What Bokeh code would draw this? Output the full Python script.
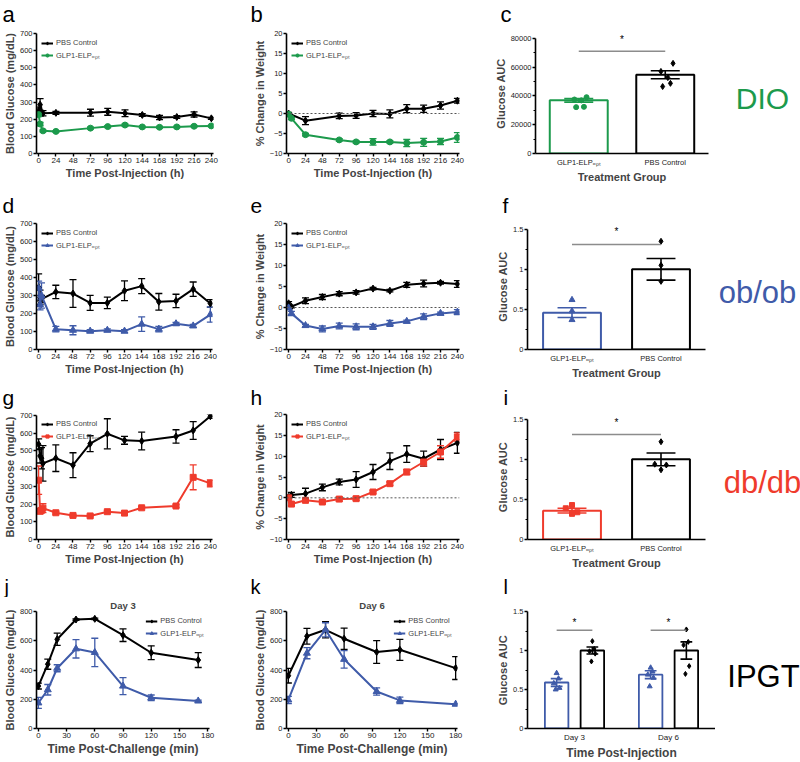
from bokeh.plotting import figure
from bokeh.layouts import column, row
from bokeh.models import (Range1d, FixedTicker, Label, Whisker, TeeHead,
                          ColumnDataSource, Span, BasicTickFormatter)
from bokeh.core.validation import silence
from bokeh.core.validation.warnings import MISSING_RENDERERS
from bokeh.embed import file_html
from bokeh.resources import INLINE

silence(MISSING_RENDERERS, True)

FONT = "Liberation Sans"
BLACK = "#000000"
GREEN = "#1c9a4c"
BLUE = "#3f5ba9"
RED = "#ef3b2c"
GRAY = "#8c8c8c"

GLP = "GLP1-ELP\u2092\u209a\u209c"
PBS = "PBS Control"

# ---------------- data ----------------
hour_ticks = [0, 24, 48, 72, 96, 120, 144, 168, 192, 216, 240]
glucose_ticks = [0, 100, 200, 300, 400, 500, 600, 700]
weight_ticks = [-10, -5, 0, 5, 10, 15, 20]
challenge_ticks = [0, 30, 60, 90, 120, 150, 180]
ipgt_glucose_ticks = [0, 200, 400, 600, 800]
auc_ticks = [0.0, 0.5, 1.0, 1.5]
auc_minor = [0.25, 0.75, 1.25]
dio_auc_ticks = [0, 20000, 40000, 60000, 80000]
dio_auc_minor = [10000, 30000, 50000, 70000]
bar_groups = [GLP, PBS]
ipgt_days = ["Day 3", "Day 6"]
panel_letters = ["a", "b", "c", "d", "e", "f", "g", "h", "i", "j", "k", "l"]
model_names = ["DIO", "ob/ob", "db/db", "IPGT"]

# (a) DIO blood glucose
a_pbs_t = [0, 2, 6, 24, 72, 96, 120, 144, 168, 192, 216, 240]
a_pbs_y = [250, 285, 235, 237, 238, 243, 235, 225, 210, 213, 228, 205]
a_pbs_e = [20, 35, 15, 8, 20, 20, 20, 8, 12, 8, 15, 6]
a_glp_t = [0, 2, 6, 24, 72, 96, 120, 144, 168, 192, 216, 240]
a_glp_y = [227, 172, 132, 129, 148, 157, 166, 155, 153, 155, 159, 161]
a_glp_e = [12, 10, 6, 5, 6, 6, 7, 5, 5, 5, 5, 5]

# (b) DIO weight change
b_pbs_t = [0, 24, 72, 96, 120, 144, 168, 192, 216, 240]
b_pbs_y = [0.0, -1.8, -0.6, -0.5, 0.0, -0.1, 1.2, 1.2, 2.0, 3.2]
b_pbs_e = [0.3, 1.0, 0.7, 0.7, 0.8, 1.0, 1.0, 0.9, 0.9, 0.6]
b_glp_t = [0, 4, 24, 72, 96, 120, 144, 168, 192, 216, 240]
b_glp_y = [-0.2, -1.2, -5.3, -6.6, -7.1, -7.1, -7.1, -7.4, -7.2, -7.0, -6.0]
b_glp_e = [0.2, 0.3, 0.3, 0.3, 0.3, 0.8, 0.3, 0.9, 1.0, 0.8, 1.2]

# (c) DIO AUC
c_mean = [36900, 54700]
c_sem = [1200, 2800]
c_glp_pts = [39100, 37500, 36900, 32400, 32200]
c_pbs_pts = [62600, 57000, 52700, 48700, 46500]
c_sig_y = 71000
c_star_y = 79500

# (d) ob/ob blood glucose
d_t = [0, 2, 4, 24, 48, 72, 96, 120, 144, 168, 192, 216, 240]
d_pbs_y = [345, 290, 280, 320, 311, 259, 259, 326, 352, 265, 270, 335, 256]
d_pbs_e = [75, 40, 20, 37, 77, 42, 32, 55, 42, 46, 37, 40, 21]
d_glp_y = [340, 250, 300, 113, 107, 102, 107, 102, 141, 113, 143, 131, 194]
d_glp_e = [40, 30, 70, 15, 25, 8, 8, 8, 40, 15, 8, 8, 42]

# (e) ob/ob weight change
e_t = [0, 4, 24, 48, 72, 96, 120, 144, 168, 192, 216, 240]
e_pbs_y = [1.0, 0.2, 1.6, 2.5, 3.3, 3.6, 4.5, 4.0, 5.4, 5.7, 5.9, 5.6]
e_pbs_e = [0.4, 0.3, 0.7, 0.6, 0.5, 0.4, 0.3, 0.3, 0.6, 0.8, 0.3, 0.8]
e_glp_y = [-0.1, -1.4, -4.3, -5.1, -4.4, -4.6, -4.6, -3.8, -3.3, -2.2, -1.4, -1.1]
e_glp_e = [0.3, 0.5, 0.3, 0.7, 0.7, 0.7, 0.6, 0.7, 0.3, 0.7, 0.3, 0.6]

# (f) ob/ob AUC
f_mean = [0.46, 1.0]
f_sem = [0.06, 0.135]
f_glp_pts = [0.62, 0.48, 0.37]
f_pbs_pts = [1.35, 1.05, 0.85]
f_sig_y = 1.31
f_star_y = 1.47

# (g) db/db blood glucose
g_t = [0, 2, 4, 6, 24, 48, 72, 96, 120, 144, 192, 216, 240]
g_pbs_y = [538, 472, 459, 430, 459, 420, 541, 597, 560, 556, 582, 616, 696]
g_pbs_e = [30, 40, 60, 100, 75, 70, 45, 85, 22, 50, 38, 50, 12]
g_glp_y = [335, 160, 165, 177, 151, 136, 133, 157, 149, 179, 189, 351, 317]
g_glp_e = [80, 15, 12, 25, 8, 6, 5, 6, 6, 6, 8, 70, 20]

# (h) db/db weight change
h_t = [0, 4, 24, 48, 72, 96, 120, 144, 168, 192, 216, 240]
h_pbs_y = [0.2, 0.7, 1.0, 2.5, 3.8, 4.4, 6.2, 8.8, 10.5, 9.4, 11.6, 13.2]
h_pbs_e = [0.3, 0.6, 1.3, 0.8, 0.7, 1.9, 1.8, 2.0, 2.0, 1.8, 2.4, 2.5]
h_glp_y = [0.0, -1.5, -0.6, -1.0, -0.3, -0.2, 1.4, 3.4, 6.2, 8.6, 11.0, 14.6]
h_glp_e = [0.3, 0.4, 0.4, 0.3, 0.5, 0.4, 0.3, 0.4, 0.6, 1.0, 1.5, 1.0]

# (i) db/db AUC
i_mean = [0.36, 1.0]
i_sem = [0.03, 0.08]
i_glp_pts = [0.43, 0.39, 0.34, 0.32]
i_pbs_pts = [1.22, 0.94, 0.93, 0.87]
i_sig_y = 1.31
i_star_y = 1.46

# (j) IPGT day 3
j_t = [0, 10, 20, 40, 60, 90, 120, 170]
j_pbs_y = [290, 440, 610, 745, 750, 638, 518, 468]
j_pbs_e = [20, 35, 42, 5, 5, 43, 47, 51]
j_glp_y = [175, 265, 412, 545, 520, 290, 210, 188]
j_glp_e = [38, 36, 24, 63, 97, 58, 19, 6]

# (k) IPGT day 6
k_t = [0, 20, 40, 60, 95, 120, 180]
k_pbs_y = [361, 631, 675, 614, 523, 538, 413]
k_pbs_e = [50, 54, 56, 73, 78, 72, 78]
k_glp_y = [195, 515, 675, 473, 253, 192, 166]
k_glp_e = [25, 38, 48, 60, 25, 22, 4]

# (l) IPGT AUC
l_glp_mean = [0.59, 0.69]
l_glp_sem = [0.05, 0.05]
l_pbs_mean = [1.0, 1.0]
l_pbs_sem = [0.045, 0.11]
l_glp_pts = [[0.71, 0.64, 0.58, 0.52, 0.50], [0.78, 0.73, 0.69, 0.65, 0.54]]
l_pbs_pts = [[1.12, 1.02, 0.99, 0.96, 0.86], [1.27, 1.11, 1.07, 0.80, 0.70]]
l_sig_y = 1.26
l_star_y = 1.36

# ---------------- layout geometry (page pixels) ----------------
COL_X = [0, 250, 490, 715]
COL_W = [250, 240, 225, 85]
STRIP_Y = [0, 193, 385, 575]
STRIP_H = [28, 24, 24, 22]
ROW_Y = [28, 217, 409, 597]
ROW_H = [165, 168, 166, 165]

JIT5 = [0.09, -0.05, 0.03, 0.06, -0.03]
JIT4 = [0.0, -0.07, 0.06, 0.0]
JIT3 = [0.0, 0.0, 0.0]
JIT5N = [0.0, 0.02, -0.03, 0.03, -0.01]


def new_fig(w, h, L, R, T, B, x_range, y_range, title=None, **kw):
    if title is None:
        kw["title_location"] = None
    else:
        kw["title"] = title
    p = figure(width=w, height=h, x_range=x_range, y_range=y_range,
               min_border_left=L, min_border_right=R, min_border_top=T,
               min_border_bottom=B, output_backend="svg", toolbar_location=None,
               tools="", **kw)
    p.outline_line_color = None
    p.background_fill_color = "white"
    p.border_fill_color = "white"
    return p


def panel(r, c, L, R, T, B, x_range, y_range, title=None):
    p = new_fig(COL_W[c], ROW_H[r], L, R, T, B, x_range, y_range, title=title)
    p.grid.visible = False
    return p


def text_fig(x0, y0, w, h, items):
    p = new_fig(w, h, 0, 0, 0, 0, Range1d(0, w), Range1d(0, h),
                x_axis_type=None, y_axis_type=None)
    for px, py, txt, kw in items:
        p.add_layout(Label(x=px - x0, y=(y0 + h) - py, text=txt, text_font=FONT, **kw))
    return p


def style_axes(p, xlabel, ylabel, xticks, yticks, ytick_minor=None, xtick_len=3):
    p.xaxis.ticker = FixedTicker(ticks=xticks)
    if ytick_minor:
        p.yaxis.ticker = FixedTicker(ticks=yticks, minor_ticks=ytick_minor)
    else:
        p.yaxis.ticker = FixedTicker(ticks=yticks)
    p.xaxis.axis_label = xlabel
    p.yaxis.axis_label = ylabel
    for ax in (p.xaxis[0], p.yaxis[0]):
        ax.axis_line_width = 1.6
        ax.axis_line_color = BLACK
        ax.major_tick_line_width = 1.4
        ax.major_tick_line_color = BLACK
        ax.major_tick_out = 3
        ax.major_tick_in = 0
        ax.minor_tick_out = 2
        ax.minor_tick_in = 0
        ax.minor_tick_line_width = 1.2
        ax.minor_tick_line_color = BLACK
        ax.major_label_text_font = FONT
        ax.major_label_text_font_size = "8px"
        ax.major_label_text_color = "#222222"
        ax.major_label_standoff = 1
        ax.axis_label_text_font = FONT
        ax.axis_label_text_font_style = "bold"
        ax.axis_label_text_font_size = "11px"
        ax.axis_label_standoff = 1
    p.yaxis.major_label_text_font_size = "7.5px"
    p.xaxis.major_tick_out = xtick_len
    p.yaxis.formatter = BasicTickFormatter(use_scientific=False)


def add_series(p, t, y, e, color, marker, size, label, cap=7):
    lo = [a - b for a, b in zip(y, e)]
    hi = [a + b for a, b in zip(y, e)]
    src = ColumnDataSource(dict(x=t, y=y, lo=lo, hi=hi))
    p.add_layout(Whisker(source=src, base="x", lower="lo", upper="hi",
                         line_color=color, line_width=1.3,
                         lower_head=TeeHead(size=cap, line_color=color, line_width=1.3),
                         upper_head=TeeHead(size=cap, line_color=color, line_width=1.3)))
    p.line("x", "y", source=src, line_color=color, line_width=2, legend_label=label)
    p.scatter("x", "y", source=src, marker=marker, size=size, fill_color=color,
              line_color=color, legend_label=label)


def style_legend(p, loc):
    lg = p.legend[0]
    lg.location = loc
    lg.background_fill_alpha = 0
    lg.border_line_alpha = 0
    lg.label_text_font = FONT
    lg.label_text_font_size = "7.5px"
    lg.glyph_width = 12
    lg.glyph_height = 8
    lg.label_height = 8
    lg.label_standoff = 3
    lg.spacing = 3
    lg.padding = 1
    lg.margin = 4


def zero_line(p):
    p.add_layout(Span(location=0, dimension="width", line_color="#555555",
                      line_dash="2 2", line_width=1))


def add_bar(p, center, mean, sem, color, width, line_w=2):
    p.vbar(x=[center], top=[mean], width=width, fill_color="white", line_color=color,
           line_width=line_w)
    h = width * 0.25
    p.segment(x0=[center, center - h, center - h], y0=[mean - sem, mean - sem, mean + sem],
              x1=[center, center + h, center + h], y1=[mean + sem, mean - sem, mean + sem],
              line_color=color, line_width=1.6)


def add_dots(p, center, pts, jit, color, marker, size):
    p.scatter(x=[center + j for j in jit[:len(pts)]], y=pts, marker=marker, size=size,
              fill_color=color, line_color=color)


def add_sig(p, x0, x1, sig_y, star_y):
    p.line(x=[x0, x1], y=[sig_y, sig_y], line_color=GRAY, line_width=1.6)
    p.add_layout(Label(x=(x0 + x1) / 2, y=star_y, text="*", text_font=FONT,
                       text_font_size="10px", text_align="center",
                       text_baseline="middle", text_color=BLACK))


def ext_range(top, frame_h, pad):
    # extra headroom above the axis end so that stars are not clipped
    return Range1d(0, top * (frame_h + pad) / frame_h)


def hour_range():
    return Range1d(-3, 243)


centers = [i + 0.5 for i in range(len(bar_groups))]
day_centers = [i + 0.5 for i in range(len(ipgt_days))]
SIDE = dict(text_baseline="alphabetic", text_align="center")

# ---------------- strips with panel letters (centred vertically in each strip) ----------------
strip_x = [[2, 250, 500], [2, 250, 502], [2, 250, 503], [4, 250, 503]]
strip_fs = ["22px", "21px", "21px", "20px"]
strips = []
for r in range(4):
    mid = STRIP_Y[r] + STRIP_H[r] / 2
    let = dict(text_font_size=strip_fs[r], text_baseline="middle", text_align="left",
               text_color=BLACK)
    items = [(x, mid, panel_letters[3 * r + k], let) for k, x in enumerate(strip_x[r])]
    strips.append(text_fig(0, STRIP_Y[r], 800, STRIP_H[r], items))

# ---------------- side labels ----------------
side_spec = [(762, 117, GREEN, "30px"), (757, 309, BLUE, "31px"),
             (762, 499, RED, "31px"), (763, 688, BLACK, "31px")]
sides = []
for r in range(4):
    x, y, col, fs = side_spec[r]
    sides.append(text_fig(COL_X[3], ROW_Y[r], COL_W[3], ROW_H[r],
                          [(x, y, model_names[r], dict(text_color=col, text_font_size=fs, **SIDE))]))

# ---------------- row 1: DIO ----------------
A = panel(0, 0, 33, 37, 5, 36, hour_range(), Range1d(0, 700))
style_axes(A, "Time Post-Injection (h)", "Blood Glucose (mg/dL)", hour_ticks, glucose_ticks)
add_series(A, a_pbs_t, a_pbs_y, a_pbs_e, BLACK, "diamond", 7, PBS)
add_series(A, a_glp_t, a_glp_y, a_glp_e, GREEN, "circle", 6, GLP)
style_legend(A, "top_left")

B = panel(0, 1, 30, 31, 5, 36, hour_range(), Range1d(-10, 20))
style_axes(B, "Time Post-Injection (h)", "% Change in Weight", hour_ticks, weight_ticks)
zero_line(B)
add_series(B, b_pbs_t, b_pbs_y, b_pbs_e, BLACK, "diamond", 7, PBS)
add_series(B, b_glp_t, b_glp_y, b_glp_e, GREEN, "circle", 6, GLP)
style_legend(B, "top_left")

C = panel(0, 2, 45, 7, 0, 40, Range1d(0, 2), ext_range(80000, 120, 5))
style_axes(C, "Treatment Group", "Glucose AUC", centers, dio_auc_ticks, dio_auc_minor,
           xtick_len=0)
C.yaxis.bounds = (0, 80000)
C.xaxis.major_label_overrides = {centers[0]: bar_groups[0], centers[1]: bar_groups[1]}
C.xaxis.major_label_text_font_size = "7.5px"
C.xaxis.major_label_standoff = 4
add_bar(C, centers[0], c_mean[0], c_sem[0], GREEN, 0.67)
add_bar(C, centers[1], c_mean[1], c_sem[1], BLACK, 0.67)
add_dots(C, centers[0], c_glp_pts, JIT5, GREEN, "circle", 5)
add_dots(C, centers[1], c_pbs_pts, JIT5, BLACK, "diamond", 6)
add_sig(C, centers[0], centers[1], c_sig_y, c_star_y)

# ---------------- row 2: ob/ob ----------------
D = panel(1, 0, 32, 38, 6, 36, hour_range(), Range1d(0, 700))
style_axes(D, "Time Post-Injection (h)", "Blood Glucose (mg/dL)", hour_ticks, glucose_ticks)
add_series(D, d_t, d_pbs_y, d_pbs_e, BLACK, "diamond", 7, PBS)
add_series(D, d_t, d_glp_y, d_glp_e, BLUE, "triangle", 7, GLP)
style_legend(D, "top_left")

E = panel(1, 1, 29, 31, 6, 36, hour_range(), Range1d(-10, 20))
style_axes(E, "Time Post-Injection (h)", "% Change in Weight", hour_ticks, weight_ticks)
zero_line(E)
add_series(E, e_t, e_pbs_y, e_pbs_e, BLACK, "diamond", 7, PBS)
add_series(E, e_t, e_glp_y, e_glp_e, BLUE, "triangle", 7, GLP)
style_legend(E, "top_left")

F = panel(1, 2, 37, 10, 1, 36, Range1d(0, 2), ext_range(1.5, 125, 6))
style_axes(F, "Treatment Group", "Glucose AUC", centers, auc_ticks, auc_minor, xtick_len=0)
F.yaxis.bounds = (0, 1.5)
F.xaxis.major_label_overrides = {centers[0]: bar_groups[0], centers[1]: bar_groups[1]}
F.xaxis.major_label_text_font_size = "7.5px"
F.xaxis.major_label_standoff = 4
add_bar(F, centers[0], f_mean[0], f_sem[0], BLUE, 0.65)
add_bar(F, centers[1], f_mean[1], f_sem[1], BLACK, 0.65)
add_dots(F, centers[0], f_glp_pts, JIT3, BLUE, "triangle", 6)
add_dots(F, centers[1], f_pbs_pts, JIT3, BLACK, "diamond", 6)
add_sig(F, centers[0], centers[1], f_sig_y, f_star_y)

# ---------------- row 3: db/db ----------------
G = panel(2, 0, 32, 38, 5, 36, hour_range(), Range1d(0, 706))
style_axes(G, "Time Post-Injection (h)", "Blood Glucose (mg/dL)", hour_ticks, glucose_ticks)
G.yaxis.bounds = (0, 700)
add_series(G, g_t, g_pbs_y, g_pbs_e, BLACK, "diamond", 7, PBS)
add_series(G, g_t, g_glp_y, g_glp_e, RED, "square", 6, GLP)
style_legend(G, "top_left")

H = panel(2, 1, 29, 31, 5, 36, hour_range(), Range1d(-10, 20))
style_axes(H, "Time Post-Injection (h)", "% Change in Weight", hour_ticks, weight_ticks)
zero_line(H)
add_series(H, h_t, h_pbs_y, h_pbs_e, BLACK, "diamond", 7, PBS)
add_series(H, h_t, h_glp_y, h_glp_e, RED, "square", 6, GLP)
style_legend(H, "top_left")

I = panel(2, 2, 37, 10, 0, 36, Range1d(0, 2), ext_range(1.5, 125, 5))
style_axes(I, "Treatment Group", "Glucose AUC", centers, auc_ticks, auc_minor, xtick_len=0)
I.yaxis.bounds = (0, 1.5)
I.xaxis.major_label_overrides = {centers[0]: bar_groups[0], centers[1]: bar_groups[1]}
I.xaxis.major_label_text_font_size = "7.5px"
I.xaxis.major_label_standoff = 4
add_bar(I, centers[0], i_mean[0], i_sem[0], RED, 0.65)
add_bar(I, centers[1], i_mean[1], i_sem[1], BLACK, 0.65)
add_dots(I, centers[0], i_glp_pts, JIT4, RED, "square", 5)
add_dots(I, centers[1], i_pbs_pts, JIT4, BLACK, "diamond", 6)
add_sig(I, centers[0], centers[1], i_sig_y, i_star_y)

# ---------------- row 4: IPGT ----------------
def day_title(p):
    p.title.align = "center"
    p.title.text_font = FONT
    p.title.text_font_size = "9.5px"
    p.title.text_font_style = "bold"
    p.title.standoff = 1


J = panel(3, 0, 32, 41, 12, 30, Range1d(-2, 182), Range1d(0, 800), title=ipgt_days[0])
style_axes(J, "Time Post-Challenge (min)", "Blood Glucose (mg/dL)", challenge_ticks,
           ipgt_glucose_ticks)
J.xaxis.axis_label_text_font_size = "12px"
day_title(J)
add_series(J, j_t, j_pbs_y, j_pbs_e, BLACK, "diamond", 7, PBS)
add_series(J, j_t, j_glp_y, j_glp_e, BLUE, "triangle", 7, GLP)
style_legend(J, "top_right")

K = panel(3, 1, 28, 33, 12, 30, Range1d(-2, 182), Range1d(0, 800), title=ipgt_days[1])
style_axes(K, "Time Post-Challenge (min)", "Blood Glucose (mg/dL)", challenge_ticks,
           ipgt_glucose_ticks)
K.xaxis.axis_label_text_font_size = "12px"
day_title(K)
add_series(K, k_t, k_pbs_y, k_pbs_e, BLACK, "diamond", 7, PBS)
add_series(K, k_t, k_glp_y, k_glp_e, BLUE, "triangle", 7, GLP)
style_legend(K, "top_right")

Lp = panel(3, 2, 37, 0, 2, 30, Range1d(0, 2), Range1d(0, 1.5))
style_axes(Lp, "Time Post-Injection", "Glucose AUC", day_centers, auc_ticks, auc_minor,
           xtick_len=0)
Lp.xaxis.major_label_overrides = {day_centers[0]: ipgt_days[0], day_centers[1]: ipgt_days[1]}
Lp.xaxis.axis_label_text_font_size = "12px"
Lp.xaxis.major_label_standoff = 4
OFF = 0.19
for k in range(len(ipgt_days)):
    cg = day_centers[k] - OFF
    cp = day_centers[k] + OFF
    add_bar(Lp, cg, l_glp_mean[k], l_glp_sem[k], BLUE, 0.25, 1.8)
    add_bar(Lp, cp, l_pbs_mean[k], l_pbs_sem[k], BLACK, 0.25, 1.8)
    add_dots(Lp, cg, l_glp_pts[k], JIT5N, BLUE, "triangle", 5)
    add_dots(Lp, cp, l_pbs_pts[k], JIT5N, BLACK, "diamond", 5)
    add_sig(Lp, cg, cp, l_sig_y, l_star_y)

layout = column(
    strips[0], row(A, B, C, sides[0]),
    strips[1], row(D, E, F, sides[1]),
    strips[2], row(G, H, I, sides[2]),
    strips[3], row(J, K, Lp, sides[3]),
)

open("out.html", "w").write(file_html(layout, INLINE))
